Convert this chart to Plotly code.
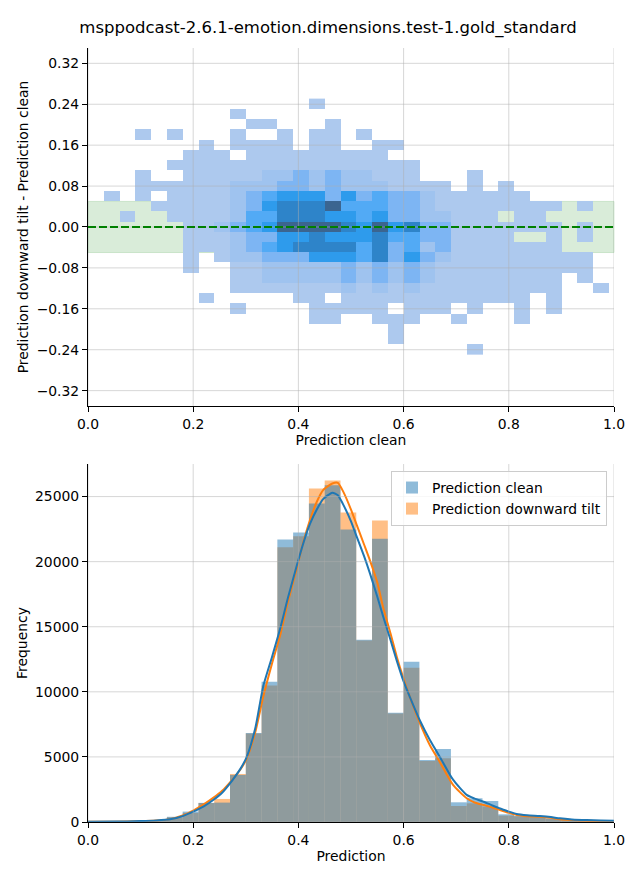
import plotly.graph_objects as go

TITLE = "msppodcast-2.6.1-emotion.dimensions.test-1.gold_standard"

# ---- shared prediction bins (33 bins of width 0.03 starting at 0) ----
BIN_WIDTH = 0.03
BIN_CENTERS = [round(0.015 + BIN_WIDTH * k, 4) for k in range(33)]

# ---- top: 2D histogram (difference vs clean prediction) ----
DIFF_CENTERS = [round(0.001 + 0.02 * j, 4) for j in range(12, -13, -1)]
# density level per cell, rows from top (0.24) to bottom (-0.24), 33 columns each
HEAT_ROWS = [
    "0000000000" "0000100000" "0000000000" "000",
    "0000000001" "0000000000" "0000000000" "000",
    "0000000000" "1100010000" "0000000000" "000",
    "0001010001" "0010110100" "0000000000" "000",
    "0000000101" "1110110011" "0000000000" "000",
    "0000001110" "1111111110" "0000000000" "000",
    "0000011111" "1111111111" "1000000000" "000",
    "0001001111" "1223232211" "1000100000" "000",
    "0001111112" "2233232221" "1110101000" "000",
    "0101011112" "3455535343" "3211111100" "000",
    "0000111112" "3566674443" "3211111111" "010",
    "0010011112" "4466655453" "3221110110" "000",
    "0000001123" "4577776575" "6331111111" "010",
    "0000001112" "3355655564" "4331111001" "010",
    "0000001112" "3456666463" "4231111111" "000",
    "0000001012" "2333555463" "5321111111" "110",
    "0000001001" "1222223232" "3211111111" "110",
    "0000000001" "1222223232" "3211111111" "010",
    "0000000001" "1111112121" "2111111111" "001",
    "0000000100" "0001101111" "1111111101" "000",
    "0000000001" "0000111110" "1110100101" "000",
    "0000000000" "0000110011" "1001000100" "000",
    "0000000000" "0000000001" "0000000000" "000",
    "0000000000" "0000000001" "0000000000" "000",
    "0000000000" "0000000000" "0000100000" "000",
]
LEVEL_COLORS = ["#adc9ee", "#9fc3ef", "#7db5f3", "#52aaf5", "#2e9bec", "#2e84c9", "#3b6590"]

X_TICKS = [0.0, 0.2, 0.4, 0.6, 0.8, 1.0]
DIFF_TICKS = [-0.32, -0.24, -0.16, -0.08, 0.0, 0.08, 0.16, 0.24, 0.32]
TOLERANCE = 0.05

# ---- bottom: histograms ----
CLEAN_COUNTS = [20, 30, 50, 80, 150, 400, 800, 1470, 1490, 3615, 6846, 10769, 21692,
                22230, 24461, 25871, 22461, 13999, 21768, 8400, 12307, 4769, 5615,
                1513, 1820, 1615, 590, 460, 410, 280, 200, 150, 100]
TILT_COUNTS = [15, 25, 40, 70, 130, 350, 700, 1460, 1770, 3690, 6800, 10487, 21103,
               21948, 25615, 26230, 23768, 13948, 23153, 8330, 11846, 4692, 4897,
               1231, 1436, 1180, 487, 440, 390, 260, 180, 130, 80]

KDE_X = [0.0, 0.05, 0.10, 0.13, 0.156, 0.18, 0.20, 0.22, 0.238, 0.255, 0.27, 0.29,
         0.302, 0.318, 0.333, 0.35, 0.365, 0.38, 0.397, 0.41, 0.422, 0.435, 0.447,
         0.4645, 0.475, 0.485, 0.50, 0.511, 0.525, 0.536, 0.55, 0.561, 0.575, 0.587,
         0.60, 0.612, 0.631, 0.65, 0.669, 0.694, 0.72, 0.735, 0.752, 0.77, 0.783,
         0.80, 0.815, 0.835, 0.859, 0.88, 0.897, 0.92, 0.948, 0.975, 1.0]
KDE_CLEAN = [15, 30, 70, 120, 205, 450, 795, 1200, 1690, 2250, 2970, 4100,
             5025, 7200, 10400, 12700, 14800, 17200, 19700, 21500, 22900, 24000, 24800,
             25300, 25100, 24400, 23100, 21900, 20400, 19100, 17300, 15800, 14000, 12400,
             10800, 9600, 7800, 6300, 5000, 3250, 2080, 1800, 1560, 1250, 1050,
             800, 620, 520, 460, 380, 280, 200, 150, 120, 90]
KDE_TILT = [10, 25, 60, 110, 220, 500, 880, 1350, 1850, 2400, 3050, 4050,
            4900, 6900, 9600, 12200, 14300, 16900, 19500, 21600, 23200, 24600, 25500,
            26000, 26050, 25400, 24000, 22800, 21300, 20100, 18400, 16500, 14500, 12700,
            11000, 9600, 7600, 5900, 4600, 2850, 1820, 1500, 1300, 1100, 920,
            700, 540, 450, 410, 320, 210, 150, 100, 70, 50]
FREQ_TICKS = [0, 5000, 10000, 15000, 20000, 25000]

# ------------------------------------------------------------------
z = []
for row in HEAT_ROWS:
    z.append([int(c) if c != "0" else None for c in row])

n = len(LEVEL_COLORS)
colorscale = []
for i, c in enumerate(LEVEL_COLORS):
    colorscale.append([i / n, c])
    colorscale.append([(i + 1) / n, c])

BLUE = "#1f77b4"
ORANGE = "#ff7f0e"
FONT = "DejaVu Sans"
FS = 13.9

fig = go.Figure()

fig.add_trace(go.Heatmap(
    x=BIN_CENTERS, y=DIFF_CENTERS, z=z, colorscale=colorscale,
    zmin=0.5, zmax=n + 0.5, showscale=False, hoverinfo="skip",
    xaxis="x", yaxis="y"))

fig.add_trace(go.Bar(
    x=BIN_CENTERS, y=TILT_COUNTS, width=BIN_WIDTH, name="Prediction downward tilt",
    marker=dict(color="rgba(255,127,14,0.5)", line=dict(width=0)),
    legendrank=2, xaxis="x2", yaxis="y2"))
fig.add_trace(go.Bar(
    x=BIN_CENTERS, y=CLEAN_COUNTS, width=BIN_WIDTH, name="Prediction clean",
    marker=dict(color="rgba(31,119,180,0.5)", line=dict(width=0)),
    legendrank=1, xaxis="x2", yaxis="y2"))
fig.add_trace(go.Scatter(
    x=KDE_X, y=KDE_TILT, mode="lines", line=dict(color=ORANGE, width=2, shape="spline", smoothing=0.6),
    showlegend=False, hoverinfo="skip", xaxis="x2", yaxis="y2"))
fig.add_trace(go.Scatter(
    x=KDE_X, y=KDE_CLEAN, mode="lines", line=dict(color=BLUE, width=2, shape="spline", smoothing=0.6),
    showlegend=False, hoverinfo="skip", xaxis="x2", yaxis="y2"))

def fmt_diff(v):
    s = f"{abs(v):.2f}"
    return ("\u2212" + s) if v < 0 else s

axis_common = dict(
    showline=True, linecolor="black", linewidth=1, ticks="outside", ticklen=5,
    tickwidth=1, tickcolor="black", showgrid=False, zeroline=False, automargin=False,
    tickfont=dict(size=FS, color="black", family=FONT), layer="above traces",
)
TFONT = dict(size=FS, color="black", family=FONT)

# the page adds an 8px body margin, so the figure is 8px smaller on each axis
W, H = 632, 872
fig.update_layout(
    width=W, height=H,
    margin=dict(l=80, r=26, t=40, b=58),
    paper_bgcolor="white", plot_bgcolor="white",
    font=dict(family=FONT, size=FS, color="black"),
    title=dict(text=TITLE, x=0.5 + 4 / W, xref="container", xanchor="center",
               y=1 - 19 / H, yref="container", yanchor="middle",
               font=dict(size=16.5, family=FONT, color="black")),
    barmode="overlay",
    showlegend=True,
    legend=dict(x=0.9867, xanchor="right", y=0.4535, yanchor="top",
                bgcolor="rgba(255,255,255,0.8)", bordercolor="#cccccc", borderwidth=1,
                font=dict(size=FS, family=FONT, color="black"),
                tracegroupgap=2),
    xaxis=dict(domain=[0, 1], anchor="y", range=[0, 1], tickvals=X_TICKS,
               ticktext=[f"{v:.1f}" for v in X_TICKS],
               title=dict(text="Prediction clean", standoff=4, font=TFONT), **axis_common),
    yaxis=dict(domain=[0.5375, 1], anchor="x", range=[-0.35, 0.35], tickvals=DIFF_TICKS,
               ticktext=[fmt_diff(v) for v in DIFF_TICKS],
               title=dict(text="Prediction downward tilt - Prediction clean", standoff=4, font=TFONT),
               **axis_common),
    xaxis2=dict(domain=[0, 1], anchor="y2", range=[0, 1], tickvals=X_TICKS,
                ticktext=[f"{v:.1f}" for v in X_TICKS],
                title=dict(text="Prediction", standoff=4, font=TFONT), **axis_common),
    yaxis2=dict(domain=[0, 0.4625], anchor="x2", range=[0, 27500], tickvals=FREQ_TICKS,
                ticktext=[str(v) for v in FREQ_TICKS],
                title=dict(text="Frequency", standoff=4, font=TFONT), **axis_common),
)

GRID = dict(color="rgba(176,176,176,0.5)", width=1)
shapes = []
# tolerance band
shapes.append(dict(type="rect", xref="x domain", yref="y", x0=0, x1=1,
                   y0=-TOLERANCE, y1=TOLERANCE, fillcolor="rgba(0,128,0,0.15)",
                   line=dict(color="rgba(0,128,0,0.15)", width=1), layer="below"))
# grid lines drawn above the cells / bars like matplotlib
for v in X_TICKS:
    shapes.append(dict(type="line", xref="x", yref="y domain", x0=v, x1=v, y0=0, y1=1,
                       line=GRID, layer="above"))
    shapes.append(dict(type="line", xref="x2", yref="y2 domain", x0=v, x1=v, y0=0, y1=1,
                       line=GRID, layer="above"))
for v in DIFF_TICKS:
    shapes.append(dict(type="line", xref="x domain", yref="y", x0=0, x1=1, y0=v, y1=v,
                       line=GRID, layer="above"))
for v in FREQ_TICKS:
    shapes.append(dict(type="line", xref="x2 domain", yref="y2", x0=0, x1=1, y0=v, y1=v,
                       line=GRID, layer="above"))
# zero reference line
shapes.append(dict(type="line", xref="x domain", yref="y", x0=0, x1=1, y0=0, y1=0,
                   line=dict(color="green", width=2, dash="8px,3px"), layer="above"))
fig.update_layout(shapes=shapes)

fig.write_html("out.html")
